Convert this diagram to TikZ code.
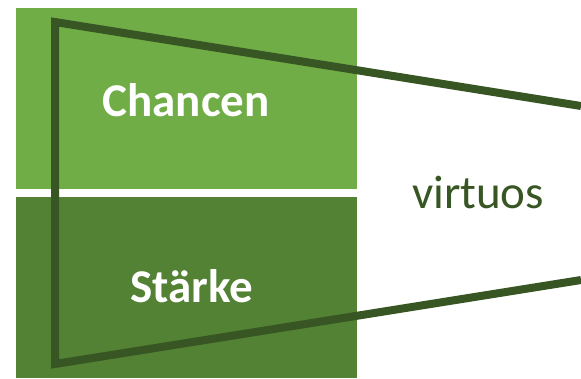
\documentclass[tikz,border=0pt]{standalone}
\usepackage{fontspec}
\setmainfont{Carlito}
\usetikzlibrary{positioning}
\definecolor{lightgreen}{HTML}{70AD47}
\definecolor{midgreen}{HTML}{548235}
\definecolor{darkgreen}{HTML}{375623}
\tikzset{%
  % Specifications for style of nodes:
  field/.style = {rectangle, draw=none, minimum width=341pt,
                  minimum height=181pt, inner sep=0pt},
  title/.style = {text=white, inner sep=0pt,
                  font=\fontsize{47}{56}\selectfont\bfseries},
  word/.style = {text=darkgreen, inner sep=0pt,
                 font=\fontsize{47}{56}\selectfont},
  frame/.style = {draw=darkgreen, line width=8pt}
}
\begin{document}
\begin{tikzpicture}[x=1pt, y=-1pt]
  \useasboundingbox (0,0) rectangle (581,378);

  \node[field, fill=lightgreen] (chancen) at (186.5,98.5) {};
  \node[field, fill=midgreen, below=8pt of chancen] (staerke) {};
  \node[title, anchor=base] (chancentxt) at (186,116) {Chancen};
  \node[title, anchor=base] (staerketxt) at (191.5,302) {Stärke};
  \node[word, anchor=base] (virtuos) at (478,208) {virtuos};

  \coordinate (tl) at (55,22);
  \coordinate (bl) at (55,364);
  \coordinate (tr) at (581,106);
  \coordinate (br) at (581,280);
  \draw[frame] (tr) -- (tl) -- (bl) -- (br);

\end{tikzpicture}
\end{document}
